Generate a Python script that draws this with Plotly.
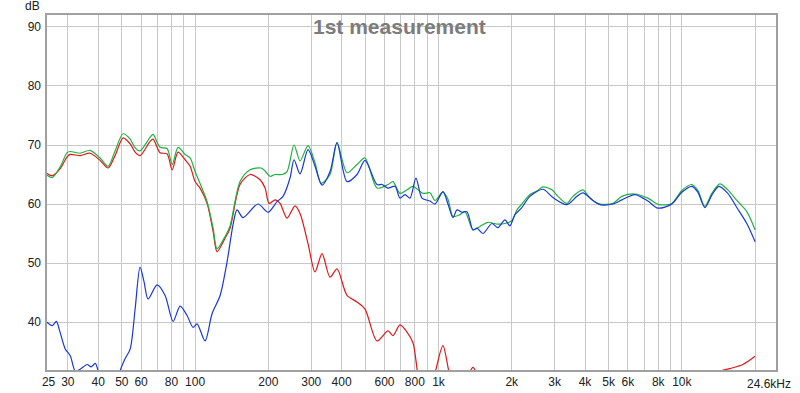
import math
import plotly.graph_objects as go

# ---------------- data ----------------
freq_red = [24.4, 25.9, 27.9, 29.8, 30.7, 33.7, 37.0, 40.7, 43.9, 46.9, 50.6, 54.1, 56.7, 59.4,
            65.3, 67.2, 71.8, 76.7, 80.5, 85.1, 91.0, 95.4, 100, 104.8, 112, 118.6, 123.1, 132.8,
            139.2, 153, 168.2, 184.9, 193.9, 201.3, 213.1, 223.4, 238.7, 257.4, 269.9, 291.1, 311,
            332.3, 358.5, 382.9, 421, 462.7, 499.1, 559, 620.3, 650.3, 694.8, 742.4, 785.7, 823.8,
            880, 940, 977, 1043, 1104, 1169, 1309, 1386, 1481, 1658, 2376, 4606, 7251, 11630,
            13280, 14320, 15740, 17800, 20000]
red_db = [65.3, 64.8, 66.0, 68.0, 68.4, 68.2, 68.6, 67.4, 66.1, 68.2, 71.2, 70.2, 68.8, 68.2,
          70.6, 71.0, 68.7, 68.5, 65.8, 68.8, 67.5, 66.4, 63.8, 62.7, 60.1, 55.3, 51.9, 54.2,
          55.9, 63.3, 65.0, 64.1, 62.7, 60.1, 60.7, 60.1, 57.6, 59.7, 58.4, 53.3, 48.5,
          51.6, 47.6, 49.0, 44.5, 43.4, 42.2, 36.8, 38.5, 37.7, 39.5, 38.3, 36.5, 31.0,
          26.0, 28.5, 32.0, 36.0, 31.6, 28.0, 30.5, 32.3, 30.0, 27.0, 25.0, 24.0, 24.0, 26.0,
          29.5, 31.6, 32.1, 32.8, 34.2]

freq_green = [24.4, 25.9, 27.9, 29.8, 30.7, 33.7, 37.0, 40.7, 43.9, 46.9, 50.6, 54.1, 56.7, 59.4,
              65.3, 67.2, 71.8, 76.7, 80.5, 85.1, 91.0, 95.4, 100, 104.8, 112, 118.6, 123.1, 132.8,
              139.2, 153, 168.2, 186.7, 193.9, 203.2, 213.1, 227.7, 238.7, 255, 269.9, 291.1, 311,
              329.2, 358.5, 382.9, 421, 462.7, 499.1, 559, 620.3, 650.3, 694.8, 742.4, 785.7,
              863.7, 922.8, 967.4, 1043, 1094, 1147, 1225, 1285, 1386, 1481, 1597, 1739, 1875,
              2004, 2101, 2202, 2376, 2538, 2686, 2925, 3096, 3371, 3568, 3922, 4190, 4606, 5208,
              5671, 6412, 7251, 8045, 9097, 10000, 10990, 11630, 12430, 13280, 14320, 15450,
              16820, 18490, 20000]
green_db = [65.0, 64.5, 66.3, 68.7, 68.9, 68.6, 69.1, 67.8, 66.4, 69.0, 71.9, 71.0, 69.5, 69.0,
            71.3, 71.8, 69.6, 69.4, 66.7, 69.6, 68.4, 67.8, 65.5, 63.5, 60.4, 55.9, 52.4, 54.5,
            56.3, 63.8, 65.8, 66.1, 65.6, 64.7, 65.0, 65.0, 65.5, 70.0, 67.3, 69.9, 67.0,
            63.5, 65.0, 70.4, 65.3, 66.7, 67.8, 62.7, 63.3, 63.8, 61.8, 62.4, 63.0,
            61.8, 61.9, 60.6, 62.0, 60.8, 57.9, 58.2, 58.7, 55.6, 56.2, 56.9, 56.6, 56.7,
            57.2, 59.0, 60.0, 61.6, 62.2, 62.9, 62.4, 61.3, 60.1, 61.3, 62.4, 61.0, 60.0, 60.1,
            61.3, 61.7, 61.0, 59.9, 60.1, 62.3, 63.3, 62.3, 59.6, 61.8, 63.4, 62.4,
            60.6, 58.7, 55.6]

freq_blue = [24.4, 25.9, 26.9, 27.9, 29.3, 30.7, 32.2, 33.7, 36.0, 37.4, 38.9, 40.0, 41.5, 44.8,
             47.8, 49.2, 51.6, 54.1, 56.7, 59.4, 61.7, 64.1, 69.8, 75.3, 81.2, 86.8, 92.7, 98.1,
             101.9, 109.9, 117.4, 126.7, 135.3, 143.2, 148.7, 157.4, 181.4, 199.4, 217.1, 229.8,
             245.5, 255, 269.9, 291.1, 311, 332.3, 358.5, 382.9, 421, 462.7, 499.1, 559, 586.1,
             620.3, 662.7, 694.8, 728.4, 763.7, 808.3, 855.6, 922.8, 967.4, 1043, 1094, 1147,
             1191, 1249, 1309, 1386, 1439, 1523, 1658, 1755, 1875, 1966, 2061, 2182, 2376, 2686,
             2952, 3371, 3706, 3922, 4311, 4606, 5208, 5671, 6412, 7251, 7970, 9097, 10000,
             10990, 11630, 12430, 13280, 14190, 15450, 16820, 18490, 20000]
blue_db = [40.1, 39.4, 40.1, 38.2, 35.4, 34.3, 31.7, 32.0, 32.8, 32.4, 33.0, 31.6, 28.0, 25.0,
           28.0, 31.7, 33.8, 35.4, 42.2, 49.3, 46.8, 43.9, 46.3, 44.5, 40.1, 42.7, 41.1, 39.1,
           39.7, 36.8, 41.4, 44.5, 50.2, 56.5, 59.0, 57.7, 60.0, 58.6, 60.4, 61.3,
           64.4, 67.5, 65.1, 69.2, 66.4, 63.2, 65.5, 70.4, 63.8, 65.0, 67.4, 63.3, 63.3,
           62.7, 63.0, 61.0, 61.6, 61.0, 64.4, 61.0, 60.5, 60.0, 62.1, 60.0, 57.7,
           59.0, 58.6, 58.7, 55.6, 55.9, 55.0, 56.7, 56.0, 57.3, 56.3, 58.2, 59.2, 61.3, 62.5,
           61.1, 59.9, 61.3, 61.9, 60.6, 59.9, 60.0, 60.7, 61.6, 60.5, 59.3, 60.0, 62.0,
           63.0, 62.0, 59.4, 61.5, 63.0, 61.8, 59.4, 56.7, 53.6]

x_tick_vals = [25, 30, 40, 50, 60, 80, 100, 200, 300, 400, 600, 800, 1000, 2000, 3000, 4000,
               5000, 6000, 8000, 10000]
x_tick_text = ["25", "30", "40", "50", "60", "80", "100", "200", "300", "400", "600", "800",
               "1k", "2k", "3k", "4k", "5k", "6k", "8k", "10k"]
x_grid_vals = [30, 40, 50, 60, 70, 80, 90, 100, 200, 300, 400, 500, 600, 700, 800, 900,
               1000, 2000, 3000, 4000, 5000, 6000, 7000, 8000, 9000, 10000, 20000]
decade_vals = [100, 1000, 10000]
y_tick_vals = [40, 50, 60, 70, 80, 90]
title_text = "1st measurement"
unit_y = "dB"
end_label = "24.6kHz"

# ---------------- figure ----------------
FONT = "Liberation Sans, Arial, sans-serif"
fig = go.Figure()
fig.add_trace(go.Scatter(x=freq_red, y=red_db, mode="lines",
                         line=dict(color="#e01818", width=1.2, shape="spline", smoothing=0.8),
                         hoverinfo="skip"))
fig.add_trace(go.Scatter(x=freq_green, y=green_db, mode="lines",
                         line=dict(color="#20b040", width=1.2, shape="spline", smoothing=0.8),
                         hoverinfo="skip"))
fig.add_trace(go.Scatter(x=freq_blue, y=blue_db, mode="lines",
                         line=dict(color="#1838d8", width=1.2, shape="spline", smoothing=0.8),
                         hoverinfo="skip"))

shapes = []
for v in decade_vals:
    shapes.append(dict(type="line", xref="x", yref="paper", x0=math.log10(v), x1=math.log10(v),
                       y0=0, y1=1, line=dict(color="#7a7a7a", width=1), layer="between"))
shapes.append(dict(type="rect", xref="paper", yref="paper", x0=0, x1=1, y0=0, y1=1,
                   line=dict(color="#a0a0a0", width=2), layer="above"))

fig.update_layout(
    width=800, height=393,
    margin=dict(l=46, r=23, t=14, b=22, autoexpand=False),
    paper_bgcolor="white", plot_bgcolor="white",
    showlegend=False,
    font=dict(family=FONT, size=12, color="#202020"),
    shapes=shapes,
    xaxis=dict(type="log", range=[math.log10(24.4), math.log10(24600)], automargin=False,
               tickmode="array", tickvals=x_tick_vals, ticktext=x_tick_text,
               showgrid=False, zeroline=False, showline=False, ticks="", ticklabelstandoff=2,
               tickfont=dict(family=FONT, size=12, color="#202020"),
               minor=dict(tickmode="array", tickvals=x_grid_vals, showgrid=True,
                          gridcolor="#c8c8c8", gridwidth=1, ticks="")),
    yaxis=dict(range=[31.7, 92.2], tickmode="array", tickvals=y_tick_vals, automargin=False,
               showgrid=True, gridcolor="#c8c8c8", gridwidth=1, zeroline=False,
               showline=False, ticks="", ticklabelstandoff=4,
               tickfont=dict(family=FONT, size=12, color="#202020")),
    annotations=[
        dict(text=title_text, xref="paper", yref="paper", x=0.484, y=0.965,
             xanchor="center", yanchor="middle", showarrow=False,
             font=dict(family=FONT, size=21, color="#7c7c7c", weight="bold")),
        dict(text=unit_y, xref="paper", yref="paper", x=-0.005, y=1.022,
             xanchor="right", yanchor="middle", showarrow=False,
             font=dict(family=FONT, size=12, color="#202020")),
        dict(text=end_label, xref="paper", yref="paper", x=1.022, y=0,
             xanchor="right", yanchor="top", yshift=-4, showarrow=False,
             font=dict(family=FONT, size=12, color="#202020")),
    ],
)

fig.write_html("out.html", config={"displayModeBar": False},
               post_script="document.body.style.margin='0';document.body.style.overflow='hidden';")
